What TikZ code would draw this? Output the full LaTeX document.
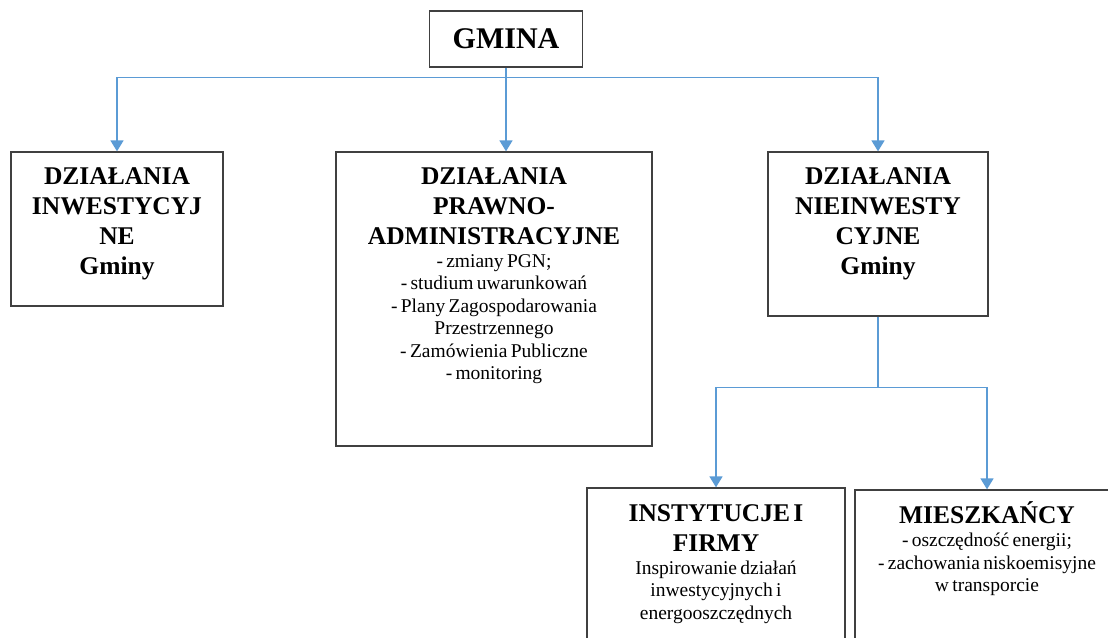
\documentclass[tikz,border=0pt]{standalone}
\usepackage{fontspec}
\setmainfont{Liberation Serif}
\usetikzlibrary{arrows.meta}
\definecolor{linkblue}{HTML}{5B9BD5}
\definecolor{boxgray}{HTML}{404040}
\newcommand{\headfont}{\fontsize{25.5}{30}\selectfont\bfseries}
\newcommand{\txtfont}{\fontsize{19.5}{22.5}\selectfont\mdseries}

\begin{document}
\begin{tikzpicture}[x=1pt,y=-1pt,
    box/.style={draw=boxgray,line width=1.3pt,inner sep=0pt},
    boxtext/.style={anchor=north,align=center,inner sep=0pt},
    line/.style={draw=linkblue,line width=1.6pt},
    link/.style={line,-{Triangle[width=13pt,length=11pt]}}]
    \clip (0,0) rectangle (1108,637);

    \node[box,minimum width=153pt,minimum height=56pt,font=\fontsize{30}{36}\selectfont\bfseries] (gmina) at (506,39) {GMINA};
    \node[box,minimum width=212pt,minimum height=154pt] (inwest) at (117,229) {};
    \node[box,minimum width=316pt,minimum height=294pt] (prawno) at (494,299) {};
    \node[box,minimum width=220pt,minimum height=164pt] (nieinw) at (878,234) {};
    \node[box,minimum width=258pt,minimum height=180pt] (firmy) at (716,578) {};
    \node[box,minimum width=264pt,minimum height=178pt] (mieszk) at (987,579) {};

    \node[boxtext,text width=200pt] (inwest-txt) at ([yshift=-12pt]inwest.north) {\headfont\strut DZIAŁANIA\\ INWESTYCYJ\\ NE\\ Gminy\par};
    \node[boxtext,text width=305pt] (prawno-txt) at ([yshift=-12pt]prawno.north) {{\headfont\strut DZIAŁANIA\\ PRAWNO-\\ ADMINISTRACYJNE\\}{\txtfont - zmiany PGN;\\ - studium uwarunkowań\\ - Plany Zagospodarowania\\ Przestrzennego\\ - Zamówienia Publiczne\\ - monitoring\par}};
    \node[boxtext,text width=210pt] (nieinw-txt) at ([yshift=-12pt]nieinw.north) {\headfont\strut DZIAŁANIA\\ NIEINWESTY\\ CYJNE\\ Gminy\par};
    \node[boxtext,text width=248pt] (firmy-txt) at ([yshift=-13pt]firmy.north) {{\headfont\strut INSTYTUCJE I\\ FIRMY\\}{\txtfont Inspirowanie działań\\ inwestycyjnych i\\ energooszczędnych\par}};
    \node[boxtext,text width=254pt] (mieszk-txt) at ([yshift=-12pt]mieszk.north) {{\headfont\strut MIESZKAŃCY\\}{\txtfont - oszczędność energii;\\ - zachowania niskoemisyjne\\ w transporcie\par}};

    \coordinate (split) at ([yshift=-10pt]gmina.south);
    \coordinate (split2) at ([yshift=-71pt]nieinw.south);

    \draw[link] (gmina.south) -- (gmina.south |- prawno.north);
    \draw[link] (split) -| (inwest.north);
    \draw[link] (split) -| (nieinw.north);

    \draw[line] (nieinw.south) -- (split2);
    \draw[link] (split2) -| (firmy.north);
    \draw[link] (split2) -| (mieszk.north);
\end{tikzpicture}
\end{document}
